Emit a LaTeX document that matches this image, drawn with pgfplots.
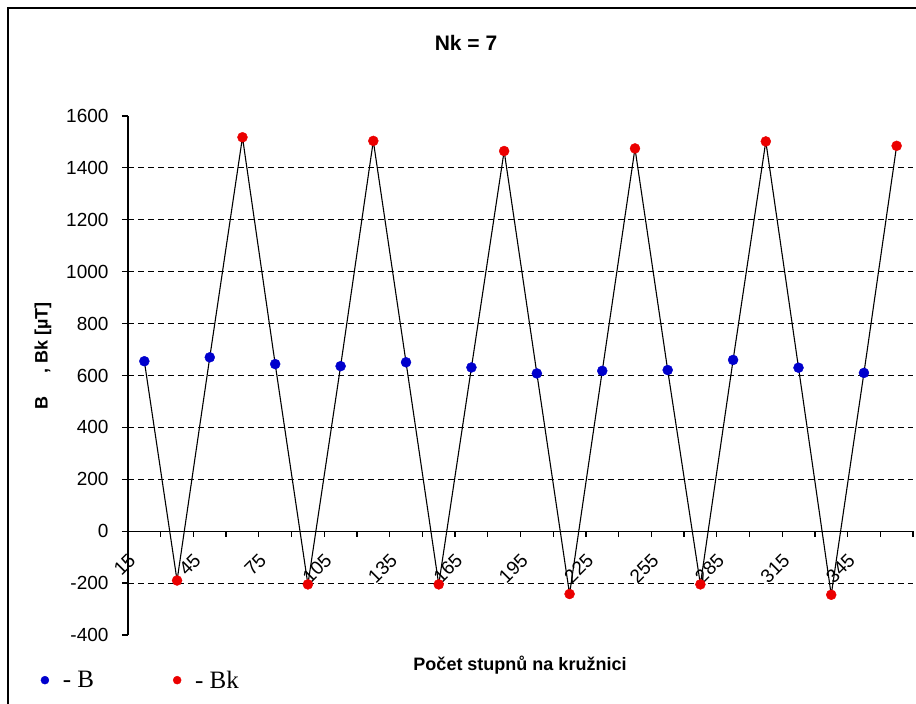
\documentclass[border=0pt]{standalone}
\usepackage{pgfplots}
\pgfplotsset{compat=1.18}
\usepackage{fontspec}
\setmainfont{Liberation Sans}
\newfontfamily\timesfont{Liberation Serif}
\definecolor{bblue}{RGB}{0,0,205}
\definecolor{bred}{RGB}{235,0,0}
\begin{document}
\begin{tikzpicture}[x=1pt,y=1pt]
\path[use as bounding box] (0,0) rectangle (916,704);
\draw[line width=1.5pt] (8,0) -- (8,696) -- (916,696);
\node[font=\bfseries\fontsize{21}{24}\selectfont] at (466,661) {Nk = 7};
\node[font=\bfseries\fontsize{18}{20}\selectfont] at (520,39) {Počet stupnů na kružnici};
\node[font=\bfseries\fontsize{18}{20}\selectfont, rotate=90] at (43,348) {B\hspace{1.3em}, Bk [µT]};
\begin{axis}[
 at={(128pt,69pt)}, anchor=south west,
 scale only axis, width=785pt, height=519pt,
 xmin=7.5, xmax=367.5, ymin=-400, ymax=1600,
 axis x line*=middle, axis y line*=left,
 axis line style={black, line width=1.3pt},
 tick align=center,
 major tick length=6pt,
 xtick=\empty,
 extra x ticks={15,45,...,345},
 extra x tick style={major tick length=0pt,
   xticklabel style={font=\fontsize{19}{21}\selectfont, rotate=45, anchor=east, xshift=-23.5pt, yshift=-9.5pt}},
 ytick={-400,-200,...,1600},
 ytick style={black, line width=1.2pt, xshift=-3pt},
 extra y ticks={-200,200,400,600,800,1000,1200,1400},
 extra y tick labels={},
 extra y tick style={grid=major, major tick length=0pt},
 major grid style={black, line width=1pt, dash pattern=on 6pt off 4pt},
 /pgf/number format/assume math mode=true,
 /pgf/number format/1000 sep={},
 yticklabel style={font=\fontsize{19}{21}\selectfont, xshift=-13pt},
 legend columns=2,
 legend style={at={(-0.115,-0.087)}, anchor=west, draw=none, fill=none,
   font=\timesfont\fontsize{25}{27}\selectfont,
   /tikz/every even column/.append style={column sep=77pt}},
 legend image code/.code={\draw[#1, mark size=4pt] plot coordinates {(0pt,0pt)};},
 clip=false,
]
% category boundary tick marks below the x axis
\pgfplotsinvokeforeach{22.5,37.5,...,367.5}{
  \draw[black, line width=1.3pt] (axis cs:#1,0) -- ([yshift=-6pt]axis cs:#1,0);
}
\addplot[black, line width=1.1pt, no marks, forget plot] coordinates {
(15,655) (30,-190) (45,670) (60,1518) (75,644) (90,-205) (105,636) (120,1504)
(135,651) (150,-205) (165,631) (180,1465) (195,608) (210,-242) (225,618) (240,1475)
(255,621) (270,-205) (285,660) (300,1502) (315,630) (330,-245) (345,610) (360,1485)};
\addplot[only marks, mark=*, mark size=5pt, color=bblue, mark options={draw=bblue, fill=bblue}] coordinates {
(15,655) (45,670) (75,644) (105,636) (135,651) (165,631) (195,608) (225,618) (255,621) (285,660) (315,630) (345,610)};
\addplot[only marks, mark=*, mark size=5pt, color=bred, mark options={draw=bred, fill=bred}] coordinates {
(30,-190) (60,1518) (90,-205) (120,1504) (150,-205) (180,1465) (210,-242) (240,1475) (270,-205) (300,1502) (330,-245) (360,1485)};
\legend{\hspace{12pt}- B, \hspace{12pt}- Bk}
\end{axis}
\end{tikzpicture}
\end{document}
